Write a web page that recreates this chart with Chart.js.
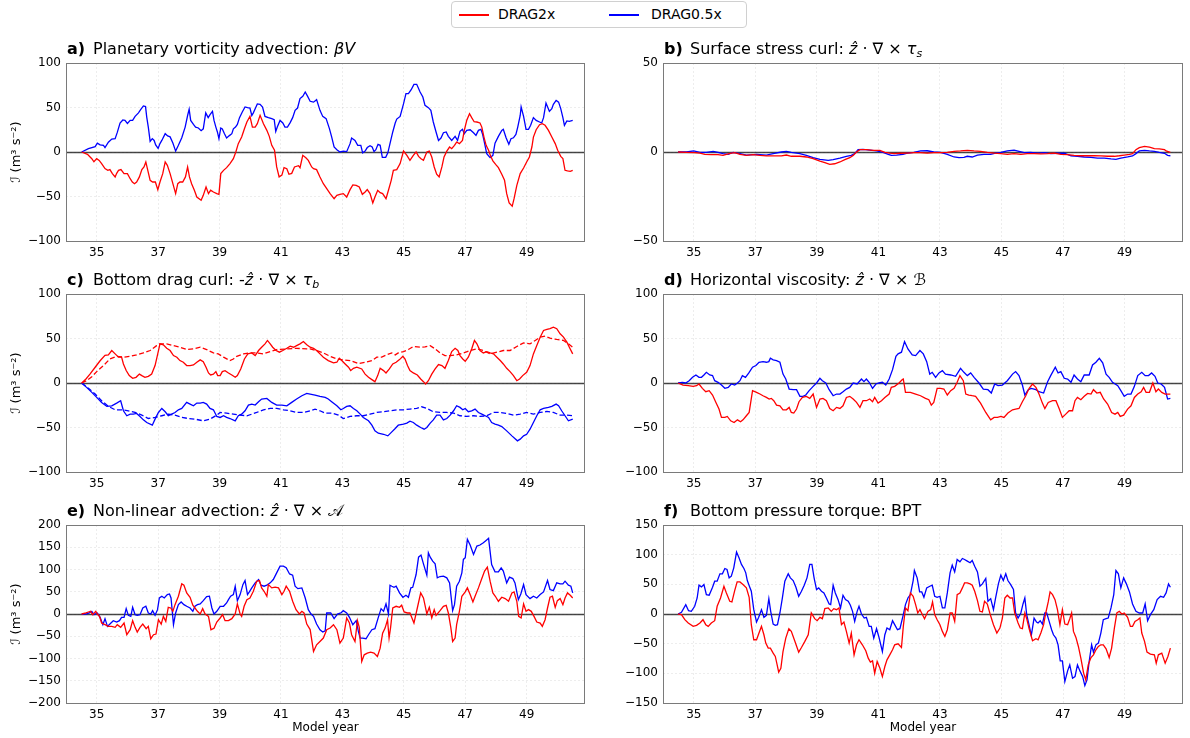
<!DOCTYPE html>
<html><head><meta charset="utf-8">
<script src="https://cdn.jsdelivr.net/npm/chart.js@4.4.1/dist/chart.umd.min.js"></script>
<style>
html,body{margin:0;padding:0;background:#fff;}
body{width:1190px;height:738px;position:relative;overflow:hidden;font-family:"DejaVu Sans",sans-serif;}
canvas{position:absolute;}
#legend{position:absolute;left:451px;top:1px;width:296px;height:27px;box-sizing:border-box;border:1px solid #d0d0d0;border-radius:4px;background:#fff;font-size:14px;z-index:5;}
#legend .sw{position:absolute;top:12px;height:2px;width:30px;}
#legend .lb{position:absolute;top:4px;line-height:17px;color:#000;white-space:nowrap;}
</style></head>
<body>
<div id="legend"></div>
<script>
// ---------- tick labels / names ----------
const xTicks = [35, 37, 39, 41, 43, 45, 47, 49];
const seriesNames = ['DRAG2x', 'DRAG0.5x'];
const seriesColors = ['#ff0000', '#0000ff'];

// ---------- a) planetary vorticity advection ----------
const aRed = [[34.51,0],[34.7,-2.6],[34.84,-7.5],[34.91,-11],[35,-7.5],[35.08,-9.4],[35.16,-13],[35.27,-18.7],[35.36,-20.6],[35.43,-19.8],[35.51,-24.3],[35.6,-28],[35.65,-24],[35.71,-20.6],[35.79,-19.8],[35.89,-24.3],[36,-24.3],[36.09,-30],[36.16,-33.7],[36.23,-35.6],[36.3,-33.7],[36.39,-28],[36.47,-19.8],[36.54,-16.8],[36.6,-11.2],[36.65,-18.7],[36.74,-31.8],[36.82,-33.7],[36.91,-33.7],[36.99,-42.3],[37.06,-33.7],[37.15,-24.3],[37.23,-11.2],[37.3,-15],[37.39,-24.3],[37.48,-35.6],[37.57,-46.8],[37.64,-35.6],[37.71,-33.7],[37.8,-33.7],[37.89,-28],[37.96,-16.8],[38.02,-28],[38.09,-35.6],[38.18,-43],[38.26,-50.6],[38.4,-54.3],[38.47,-48.7],[38.56,-39.3],[38.64,-46.8],[38.71,-43],[38.8,-45],[38.91,-46.8],[38.98,-47.6],[39.04,-24.3],[39.13,-20.6],[39.23,-17.6],[39.34,-13],[39.45,-7.5],[39.53,0],[39.61,9.4],[39.72,16.8],[39.81,26.2],[39.89,33.7],[39.99,40],[40.07,28],[40.16,28],[40.23,31.8],[40.32,41.2],[40.43,31.8],[40.54,24.3],[40.62,17.6],[40.7,7.5],[40.79,1.9],[40.86,-16.8],[40.94,-28],[41.03,-26],[41.1,-17.6],[41.19,-18.7],[41.26,-25],[41.35,-24],[41.44,-16.8],[41.57,-15.4],[41.62,-17.6],[41.71,-3.7],[41.81,-6.4],[41.89,-9.4],[42,-16.8],[42.06,-18.7],[42.16,-19.8],[42.27,-28],[42.38,-35.6],[42.49,-41.2],[42.6,-46.8],[42.73,-52.4],[42.82,-48.7],[42.92,-47.6],[43.03,-46.8],[43.14,-50.6],[43.25,-42.3],[43.34,-37],[43.45,-37.5],[43.55,-39.3],[43.65,-47.6],[43.74,-45],[43.81,-42.3],[43.9,-46.8],[43.99,-57.3],[44.06,-50.6],[44.15,-43],[44.23,-45.7],[44.31,-46.8],[44.42,-52.4],[44.5,-43],[44.59,-31.8],[44.66,-20.6],[44.77,-19.8],[44.88,-13],[44.99,1.1],[45.1,-3.7],[45.2,-9.4],[45.31,-3.7],[45.4,0],[45.48,-4.9],[45.56,-7.5],[45.64,-9.4],[45.75,0],[45.83,1],[45.91,-5.6],[45.99,-16.8],[46.07,-25],[46.15,-28],[46.24,-16.8],[46.31,-5.6],[46.4,1],[46.49,5.6],[46.56,3.7],[46.65,7.5],[46.72,11.2],[46.81,9.4],[46.91,13],[46.97,24.3],[47.05,35.6],[47.14,43],[47.21,38.6],[47.29,34],[47.38,33.7],[47.48,32.6],[47.54,28],[47.61,16.8],[47.68,7.5],[47.76,1.9],[47.83,-4.9],[47.9,-10],[47.99,-13.9],[48.08,-17.6],[48.19,-25],[48.28,-31.8],[48.35,-46.8],[48.43,-57.3],[48.53,-61],[48.59,-52.4],[48.68,-37.5],[48.79,-24.3],[48.9,-18],[49,-11.2],[49.09,-5.6],[49.17,5.6],[49.22,16.8],[49.31,25],[49.42,30.7],[49.51,31.8],[49.6,30],[49.71,24.3],[49.82,16.8],[49.93,9.4],[50.01,1.9],[50.11,-4.9],[50.18,-7.5],[50.25,-20.6],[50.33,-21.3],[50.42,-21.7],[50.5,-20.6]];
const aBlue = [[34.51,0],[34.73,3.7],[34.95,6],[35.02,10],[35.11,8],[35.22,7.5],[35.27,5],[35.38,11],[35.49,14.6],[35.6,15],[35.67,22],[35.76,32.6],[35.85,36],[35.92,35.5],[36,32],[36.09,35.5],[36.17,35.5],[36.25,40],[36.36,44],[36.43,47.5],[36.52,51.7],[36.59,51],[36.63,39],[36.68,28],[36.74,12],[36.81,15],[36.87,13],[36.92,8],[37,4],[37.06,9.4],[37.12,13],[37.23,20.6],[37.31,18],[37.39,17],[37.48,10],[37.57,1],[37.66,7.5],[37.77,16],[37.88,28],[37.96,41],[38.01,48],[38.06,35.5],[38.15,31],[38.22,28],[38.31,27],[38.4,24],[38.47,26],[38.55,44],[38.63,38.6],[38.69,42],[38.77,45.7],[38.82,35.5],[38.88,28],[38.93,22.5],[38.98,15],[39.04,27],[39.09,26],[39.16,20.6],[39.23,15.7],[39.32,18.4],[39.4,20.6],[39.45,26],[39.52,28],[39.58,31],[39.65,38.6],[39.74,45],[39.83,50.6],[39.91,49.8],[39.99,49.4],[40.05,41],[40.1,44],[40.16,48.7],[40.23,54],[40.32,53.5],[40.4,50.6],[40.48,40],[40.59,38.6],[40.7,37.5],[40.78,36.3],[40.83,23],[40.88,28],[40.97,35.5],[41.06,32.6],[41.13,28],[41.21,28],[41.3,33],[41.38,38.6],[41.46,46.8],[41.54,49.4],[41.62,60],[41.71,62.5],[41.79,67.4],[41.86,63],[41.95,57],[42.06,56],[42.16,58.8],[42.27,46.8],[42.36,40],[42.47,37.5],[42.58,26],[42.65,17],[42.73,5.6],[42.82,2.6],[42.92,0],[43.03,1],[43.14,0.4],[43.25,9.4],[43.3,15.7],[43.41,13],[43.5,7.5],[43.6,7.5],[43.66,-1],[43.74,1],[43.81,5],[43.9,7],[43.97,5.6],[44.03,0.4],[44.09,2.6],[44.16,8.6],[44.23,7.5],[44.3,-6],[44.41,-6],[44.48,-1],[44.55,9.4],[44.64,22.5],[44.72,32.6],[44.77,37],[44.88,40],[44.99,54],[45.07,65.5],[45.15,65.5],[45.24,70],[45.33,76],[45.42,76],[45.53,67.4],[45.62,61.8],[45.69,52.4],[45.8,49.8],[45.88,46.8],[45.96,33.7],[46.05,22.5],[46.13,13],[46.21,15.7],[46.29,21.7],[46.38,22.5],[46.45,17.6],[46.56,13],[46.67,17.6],[46.75,13],[46.83,23.2],[46.91,25.5],[46.97,20.6],[47.05,24.3],[47.16,25],[47.27,21.7],[47.35,18.7],[47.43,24.3],[47.51,25.5],[47.56,20.6],[47.61,13],[47.7,-1.9],[47.81,-6.4],[47.9,-3.7],[47.97,10],[48.08,17.6],[48.19,24.3],[48.24,25.5],[48.33,16],[48.42,8.6],[48.49,15],[48.57,16],[48.65,19.8],[48.71,28],[48.79,41],[48.82,50.6],[48.9,40],[48.98,25.5],[49.06,25.5],[49.13,30],[49.22,38.6],[49.31,35.5],[49.42,33.7],[49.49,32.6],[49.55,38.6],[49.63,55],[49.74,45.7],[49.82,48.7],[49.87,53.5],[49.96,58],[50.04,56],[50.11,48.7],[50.18,38.6],[50.23,30],[50.31,35],[50.39,34.5],[50.5,35.6]];

// ---------- b) surface stress curl ----------
const bRed = [[34.49,0],[34.76,-0.2],[35.03,-0.4],[35.2,-0.6],[35.36,-1.3],[35.57,-1.5],[35.79,-1.5],[35.95,-1.9],[36.06,-1.3],[36.22,-0.6],[36.33,-0.4],[36.5,-1.3],[36.71,-1.9],[36.93,-1.5],[37.15,-1.9],[37.36,-2.2],[37.58,-2.2],[37.85,-2.2],[38.01,-1.7],[38.17,-2.4],[38.45,-2.4],[38.66,-2.8],[38.88,-3.7],[39.1,-5.1],[39.26,-6],[39.42,-6.9],[39.58,-6.6],[39.75,-5.6],[39.91,-4.3],[40.07,-3.2],[40.18,-1.9],[40.29,0],[40.4,1.3],[40.61,1.3],[40.83,0.9],[41.05,0.9],[41.21,-0.2],[41.37,-0.6],[41.53,-0.9],[41.7,-0.7],[41.94,-0.6],[42.15,-0.4],[42.37,-0.4],[42.59,-0.6],[42.8,-0.4],[43.02,-0.4],[43.24,-0.2],[43.46,0.4],[43.67,0.6],[43.89,0.9],[44.11,0.6],[44.32,0.4],[44.54,-0.2],[44.76,-0.6],[44.98,-0.9],[45.19,-1.3],[45.41,-0.9],[45.63,-1.3],[45.84,-0.9],[46.06,-0.9],[46.28,-1.1],[46.5,-0.9],[46.71,-0.6],[46.93,-1.3],[47.15,-1.5],[47.36,-1.9],[47.58,-2.1],[47.8,-2.1],[48.02,-2.1],[48.23,-2.2],[48.45,-2.4],[48.67,-2.4],[48.83,-2.1],[48.99,-1.7],[49.16,-1.3],[49.26,-0.9],[49.37,1.3],[49.48,2.4],[49.65,3.2],[49.81,2.8],[49.97,1.9],[50.13,1.7],[50.3,1.3],[50.35,0.6],[50.49,-0.2]];
const bBlue = [[34.49,0],[34.76,0],[35,0.6],[35.2,-0.2],[35.41,-0.2],[35.63,0.4],[35.79,-0.2],[35.95,-0.9],[36.12,-1.3],[36.28,-0.2],[36.5,-0.9],[36.71,-1.7],[37.04,-1.3],[37.36,-1.7],[37.58,-0.9],[37.85,0],[38.01,0.4],[38.17,-0.2],[38.45,-0.9],[38.66,-1.9],[38.88,-3.2],[39.1,-4.1],[39.37,-4.7],[39.53,-4.3],[39.75,-3.4],[39.96,-2.4],[40.12,-1.9],[40.23,-0.9],[40.34,1.3],[40.5,1.5],[40.72,1.1],[40.94,0.6],[41.15,-0.2],[41.32,-1.3],[41.42,-1.9],[41.59,-1.7],[41.8,-1.3],[41.94,-0.6],[42.15,-0.2],[42.37,0.6],[42.59,0.7],[42.8,0],[43.02,-0.2],[43.24,-1.3],[43.46,-2.8],[43.62,-3.2],[43.78,-3],[43.89,-2.4],[44.05,-2.8],[44.22,-1.7],[44.43,-1.3],[44.65,-1.3],[44.81,-0.6],[44.98,-0.2],[45.19,0.6],[45.41,1.1],[45.57,0.4],[45.74,-0.4],[45.95,-0.2],[46.17,-0.6],[46.39,-0.4],[46.6,-0.9],[46.82,-0.7],[47.04,-0.7],[47.26,-2.1],[47.47,-2.4],[47.69,-2.8],[47.91,-3],[48.12,-3.4],[48.34,-3.4],[48.56,-3.9],[48.72,-4.1],[48.88,-3.4],[49.1,-2.8],[49.26,-2.2],[49.37,-0.9],[49.48,0.6],[49.65,0.9],[49.81,0.6],[49.97,0.4],[50.13,-0.2],[50.3,-0.7],[50.4,-1.9],[50.49,-2.1]];

// ---------- c) bottom drag curl (solid and dashed) ----------
const cRed = [[34.51,0],[34.65,4.5],[34.78,10],[34.95,17.7],[35.11,25],[35.27,31],[35.38,31.6],[35.49,36.5],[35.6,32.7],[35.71,29],[35.81,29],[35.87,21.4],[35.96,14],[36.06,8.3],[36.17,5.3],[36.28,6.4],[36.39,10],[36.47,8.3],[36.57,6.4],[36.68,7.5],[36.79,10],[36.9,19.6],[36.98,31.6],[37.06,44],[37.17,42.9],[37.28,39],[37.39,36.5],[37.5,30.8],[37.61,29],[37.71,25.2],[37.82,23.3],[37.93,19.6],[38.04,19.6],[38.15,20.3],[38.26,23.3],[38.37,26],[38.47,24],[38.56,17.7],[38.64,11.3],[38.71,9],[38.8,10],[38.88,12.8],[38.94,8.3],[39.02,8.3],[39.09,12.8],[39.18,13.9],[39.29,11.3],[39.4,9],[39.51,6.4],[39.58,8.3],[39.69,15.8],[39.81,27],[39.92,32.7],[40.05,33.8],[40.16,30.8],[40.27,36.5],[40.37,40.2],[40.48,44],[40.56,47.8],[40.65,44],[40.73,40.2],[40.84,36.5],[40.95,34.6],[41.06,36.5],[41.19,39],[41.3,41.4],[41.41,40.2],[41.51,42],[41.62,44],[41.73,46.6],[41.84,42.9],[41.95,40.2],[42.06,39],[42.16,36.5],[42.27,32.7],[42.38,29],[42.54,25.2],[42.71,22.6],[42.82,23.3],[42.9,27.8],[42.98,25.2],[43.09,21.4],[43.2,17.7],[43.27,13.9],[43.36,16.5],[43.47,17.7],[43.63,15.8],[43.74,10],[43.85,6.4],[43.96,3.8],[44.06,1.5],[44.15,8.3],[44.23,16.5],[44.34,13.9],[44.42,11.3],[44.53,15.8],[44.64,21.4],[44.75,23.3],[44.86,26.3],[44.97,30],[45.04,27],[45.12,19.6],[45.2,13.9],[45.31,11.3],[45.44,9],[45.55,4.5],[45.64,1.5],[45.71,-1.1],[45.8,2.6],[45.91,10],[46.02,15.8],[46.13,20.7],[46.24,19.6],[46.34,16.5],[46.45,25.2],[46.56,35.3],[46.67,39],[46.76,36.5],[46.83,30.8],[46.92,27],[47,24.4],[47.1,29],[47.21,38.3],[47.3,47.8],[47.38,44],[47.48,36.5],[47.59,33.8],[47.7,35.3],[47.81,33.8],[47.92,32.7],[48.03,29],[48.14,25.2],[48.24,21.4],[48.35,16.5],[48.46,12.8],[48.57,8.3],[48.68,2.6],[48.77,4.5],[48.87,8.3],[49,12],[49.11,19.6],[49.22,32.7],[49.33,42],[49.44,51.5],[49.55,59],[49.66,60.2],[49.76,61],[49.87,62.8],[49.98,61],[50.09,55.3],[50.2,51.5],[50.31,45.9],[50.39,40.2],[50.5,32.7]];
const cRedDash = [[34.51,0],[34.67,2.6],[34.84,7],[35,12.8],[35.22,19.6],[35.43,27],[35.65,30],[35.87,29],[36.09,30],[36.3,31.6],[36.52,33.8],[36.74,36.5],[36.95,42],[37.06,44],[37.28,44],[37.5,42],[37.71,40.2],[37.93,37.6],[38.15,38.3],[38.37,40.2],[38.58,37.6],[38.8,33.8],[38.96,32.7],[39.13,29],[39.34,25.2],[39.45,27],[39.56,30],[39.78,32.7],[39.99,33.8],[40.21,33.8],[40.43,32.7],[40.65,35.3],[40.86,37.6],[41.19,38.3],[41.51,39],[41.84,38.3],[41.95,38.3],[42.16,36.5],[42.38,33.8],[42.6,30],[42.82,27],[43.03,26],[43.25,25.2],[43.52,21.8],[43.74,23.3],[43.96,25.2],[44.12,29],[44.28,29],[44.44,31.6],[44.61,33.8],[44.72,31.6],[44.82,33.8],[44.99,35.3],[45.15,37.6],[45.31,41],[45.53,40.2],[45.69,40.6],[45.86,42],[46.02,38.3],[46.18,33.8],[46.34,30.8],[46.51,30.8],[46.72,31.6],[46.94,33.8],[47.16,36.5],[47.38,38.3],[47.59,36.5],[47.81,32.7],[48.03,34.6],[48.24,36.5],[48.46,36.5],[48.68,41],[48.9,45.1],[49.11,44],[49.28,47.8],[49.44,51.5],[49.6,52.6],[49.76,50.4],[49.98,48.9],[50.2,47.8],[50.36,44],[50.5,40.2]];
const cBlue = [[34.51,0],[34.67,-4.9],[34.84,-10.5],[35,-16.2],[35.16,-21.8],[35.33,-26.3],[35.49,-25.6],[35.65,-22.6],[35.78,-19.9],[35.87,-31.2],[35.98,-36.8],[36.09,-35],[36.19,-35],[36.3,-34.2],[36.41,-37.6],[36.52,-41.4],[36.63,-44.4],[36.81,-47.4],[36.9,-40.6],[37.01,-33.1],[37.12,-28.6],[37.23,-32.3],[37.33,-36.8],[37.44,-35],[37.55,-33.1],[37.66,-30.1],[37.77,-28.6],[37.93,-21.8],[38.04,-23.7],[38.15,-25.6],[38.26,-22.6],[38.37,-22.6],[38.47,-21.8],[38.58,-23.7],[38.69,-28.6],[38.8,-30.1],[38.91,-37.6],[39.02,-38.7],[39.13,-36.8],[39.23,-38.7],[39.34,-39.9],[39.51,-42.5],[39.61,-36.8],[39.72,-35],[39.83,-31.2],[39.94,-24.8],[40.05,-23.7],[40.16,-24.8],[40.27,-21],[40.37,-18],[40.54,-17.3],[40.7,-21.8],[40.86,-24.8],[41.03,-24.8],[41.19,-25.6],[41.35,-21.8],[41.51,-18],[41.68,-14.3],[41.84,-11.7],[41.95,-12.4],[42.11,-13.5],[42.27,-15],[42.44,-16.2],[42.54,-18],[42.65,-21],[42.82,-25.6],[42.95,-30.1],[43.03,-28.6],[43.14,-26.3],[43.25,-25.6],[43.36,-28.6],[43.47,-31.2],[43.58,-35],[43.68,-38.7],[43.85,-42.5],[43.96,-47.4],[44.06,-53.8],[44.17,-56.4],[44.34,-57.6],[44.48,-59.4],[44.61,-54.9],[44.72,-51.1],[44.82,-47.4],[44.99,-46.2],[45.1,-45.1],[45.2,-42.9],[45.31,-44.4],[45.42,-47.4],[45.55,-50],[45.66,-51.9],[45.75,-50],[45.86,-45.1],[45.96,-41.4],[46.07,-36.1],[46.18,-36.1],[46.29,-41.4],[46.4,-39.9],[46.51,-36.1],[46.62,-31.2],[46.72,-25.6],[46.83,-27.4],[46.92,-30.1],[47,-28.6],[47.1,-32.3],[47.21,-31.2],[47.32,-29.3],[47.43,-33.1],[47.54,-35],[47.65,-36.8],[47.76,-38.7],[47.86,-44.4],[47.97,-46.2],[48.08,-47.4],[48.19,-48.9],[48.35,-53.8],[48.52,-59.4],[48.7,-65],[48.79,-63.1],[48.9,-59.4],[49,-57.6],[49.11,-51.9],[49.22,-44.4],[49.33,-36.8],[49.44,-30.1],[49.55,-28.6],[49.71,-27.4],[49.82,-26.3],[49.96,-23.7],[50.04,-25.6],[50.14,-31.2],[50.25,-36.8],[50.36,-42.5],[50.5,-40.6]];
const cBlueDash = [[34.51,0],[34.73,-6],[34.95,-12.4],[35.16,-19.9],[35.38,-26.3],[35.6,-30.1],[35.81,-30.1],[36.03,-31.2],[36.25,-33.1],[36.47,-36.1],[36.68,-39.9],[36.9,-38.7],[37.12,-36.8],[37.33,-35],[37.55,-36.1],[37.77,-38.7],[37.99,-39.9],[38.2,-40.6],[38.47,-42.5],[38.69,-40.6],[38.91,-36.1],[39.02,-33.1],[39.23,-33.8],[39.45,-35],[39.67,-36.1],[39.89,-36.8],[40.05,-35],[40.21,-33.1],[40.43,-30.1],[40.65,-28.6],[40.86,-28.6],[41.08,-30.1],[41.3,-31.2],[41.51,-33.1],[41.73,-33.1],[41.95,-31.2],[42.11,-29.3],[42.27,-31.2],[42.44,-33.8],[42.65,-33.8],[42.87,-36.1],[43.03,-39.9],[43.25,-37.6],[43.47,-36.8],[43.68,-36.8],[43.9,-35],[44.12,-33.1],[44.34,-32.3],[44.55,-31.2],[44.77,-30.1],[44.99,-30.1],[45.2,-29.3],[45.42,-28.6],[45.58,-26.7],[45.75,-28.6],[45.96,-32.3],[46.18,-33.1],[46.4,-33.1],[46.62,-33.8],[46.83,-36.8],[47.05,-37.6],[47.27,-36.8],[47.48,-37.6],[47.7,-36.8],[47.92,-33.1],[48.14,-33.1],[48.35,-34.2],[48.57,-36.1],[48.79,-35],[49,-33.1],[49.22,-35],[49.44,-33.1],[49.66,-32],[49.87,-33.1],[50.09,-36.1],[50.31,-36.1],[50.5,-36.8]];

// ---------- d) horizontal viscosity ----------
const dRed = [[34.49,0],[34.65,-2.3],[34.82,-3],[34.98,-3.8],[35.09,-3],[35.17,-1.1],[35.28,-6],[35.39,-9.8],[35.5,-8.6],[35.61,-13.5],[35.72,-21.8],[35.82,-29.3],[35.9,-38.7],[36.01,-38.7],[36.09,-37.6],[36.2,-42.5],[36.31,-44.4],[36.42,-41.4],[36.52,-43.6],[36.6,-41.4],[36.71,-36.8],[36.8,-33.1],[36.91,-8.6],[37.04,-10.5],[37.15,-12.4],[37.25,-14.3],[37.36,-16.2],[37.45,-18],[37.52,-17.3],[37.6,-19.9],[37.69,-24.8],[37.8,-25.6],[37.9,-30.1],[38.01,-30.1],[38.1,-27.4],[38.17,-33.1],[38.25,-33.8],[38.34,-29.3],[38.42,-21],[38.53,-16.2],[38.66,-15],[38.77,-17.3],[38.88,-12.4],[38.99,-27.4],[39.1,-18],[39.2,-17.3],[39.31,-19.9],[39.42,-28.6],[39.53,-31.2],[39.64,-27.4],[39.75,-28.6],[39.85,-25.6],[39.96,-16.2],[40.07,-15],[40.18,-18],[40.29,-21.8],[40.4,-27.4],[40.5,-19.9],[40.61,-19.9],[40.72,-18],[40.81,-21],[40.88,-16.2],[40.99,-22.6],[41.1,-19.9],[41.21,-16.2],[41.35,-12.4],[41.42,-4.9],[41.53,-3.8],[41.67,0],[41.78,3.8],[41.81,4.5],[41.88,-10.5],[42.04,-10.5],[42.21,-12.4],[42.37,-14.3],[42.53,-17.3],[42.64,-18.8],[42.72,-24.8],[42.8,-21.8],[42.91,-6],[43.02,-6],[43.13,-6.8],[43.24,-13.5],[43.35,-8.6],[43.46,-6],[43.56,0.8],[43.65,8.3],[43.76,2.6],[43.84,-12.4],[43.94,-13.5],[44.05,-14.3],[44.16,-15],[44.32,-22.6],[44.49,-33.1],[44.65,-41.4],[44.76,-38.7],[44.87,-38.7],[44.98,-37.6],[45.08,-38.7],[45.21,-33.8],[45.36,-30.1],[45.46,-29.3],[45.57,-28.6],[45.68,-21],[45.79,-14.3],[45.9,-6],[46.01,-1.1],[46.12,-4.9],[46.22,-12.4],[46.33,-22.6],[46.41,-28.6],[46.52,-21.8],[46.66,-19.9],[46.77,-19.9],[46.88,-29.3],[46.98,-38.7],[47.09,-35],[47.2,-31.2],[47.31,-31.2],[47.39,-19.9],[47.47,-16.2],[47.58,-18.8],[47.69,-15],[47.8,-11.7],[47.91,-12.4],[47.99,-7.5],[48.1,-11.3],[48.21,-10.5],[48.32,-18],[48.45,-23.7],[48.58,-33.1],[48.69,-35],[48.78,-33.1],[48.86,-37.6],[48.97,-36.1],[49.1,-29.3],[49.21,-25.6],[49.32,-16.2],[49.43,-12.4],[49.54,-9.8],[49.62,-4.9],[49.7,-10.5],[49.81,-10.5],[49.92,0],[50.02,-9.8],[50.1,-6.8],[50.21,-10.5],[50.32,-12.4],[50.49,-12.4]];
const dBlue = [[34.49,0],[34.63,0.8],[34.74,0],[34.85,2.6],[34.96,6.4],[35.07,9],[35.17,6.4],[35.25,6.4],[35.33,9],[35.41,12],[35.52,9],[35.61,8.3],[35.68,2.6],[35.79,0.8],[35.9,-2.3],[36.01,-6],[36.12,-4.9],[36.22,-1.1],[36.33,-2.3],[36.42,0],[36.5,2.6],[36.58,8.3],[36.68,6.4],[36.79,11.3],[36.91,17.7],[37.02,19.6],[37.12,23.3],[37.25,24],[37.36,23.3],[37.44,24],[37.49,27.8],[37.58,26],[37.69,25.2],[37.8,23.3],[37.9,10],[37.99,4.5],[38.1,-6.8],[38.23,-7.5],[38.34,-7.5],[38.45,-15],[38.55,-15],[38.64,-13.5],[38.75,-8.6],[38.88,-3.8],[38.99,0],[39.1,5.3],[39.18,2.6],[39.29,0],[39.4,-7.5],[39.53,-14.3],[39.64,-12.4],[39.75,-12.4],[39.85,-9.8],[39.96,-6.8],[40.07,-4.9],[40.18,0],[40.31,-1.1],[40.45,4.5],[40.53,1.5],[40.61,4.5],[40.7,0.8],[40.81,-6],[40.92,-1.1],[41.02,0],[41.13,0.8],[41.24,-2.3],[41.35,4.5],[41.46,15],[41.57,30],[41.64,32.7],[41.75,34.6],[41.85,46.6],[41.96,38.3],[42.1,31.6],[42.21,30.8],[42.35,36.5],[42.46,32.7],[42.57,24],[42.67,10],[42.75,12],[42.86,6.4],[42.97,11.3],[43.08,13.9],[43.18,10],[43.35,9],[43.51,7.5],[43.67,16.5],[43.78,12],[43.89,8.3],[44,11.3],[44.11,6.4],[44.27,0],[44.41,-6.8],[44.56,-7.5],[44.67,-11.3],[44.78,-1.1],[44.89,-3],[45.03,-2.3],[45.19,2.6],[45.36,10],[45.46,12.8],[45.57,8.3],[45.68,-2.3],[45.76,-13.5],[45.87,-7.5],[45.97,-6],[46.12,-7.5],[46.22,-9.8],[46.37,-11.3],[46.5,1.5],[46.6,8.3],[46.75,17.7],[46.84,11.3],[46.93,12.8],[47.04,5.3],[47.15,4.5],[47.26,0.8],[47.36,9],[47.47,4.5],[47.58,1.5],[47.69,9],[47.85,9],[47.96,20.3],[48.07,23.3],[48.18,27.8],[48.29,22.6],[48.4,10],[48.5,6.4],[48.61,0.8],[48.78,-3],[48.88,-8.6],[48.99,-15],[49.1,-12.4],[49.21,-12.4],[49.32,-3.8],[49.43,8.3],[49.56,12],[49.67,8.3],[49.78,8.3],[49.88,11.3],[49.99,7.5],[50.08,0],[50.19,-1.1],[50.3,-4.9],[50.4,-18],[50.49,-17.3]];

// ---------- e) non-linear advection ----------
const eRed = [[34.51,0],[34.65,2.3],[34.73,4.5],[34.8,6],[34.87,-1.5],[34.97,6],[35.02,0],[35.09,-5.3],[35.16,-20.3],[35.27,-24],[35.38,-27.8],[35.49,-27.8],[35.6,-30],[35.67,-24],[35.78,-30],[35.89,-20.3],[35.98,-46.6],[36.09,-35.3],[36.17,-15],[36.25,-30],[36.32,-40.6],[36.41,-30],[36.5,-22.6],[36.61,-33],[36.68,-27.8],[36.76,-55.6],[36.85,-46.6],[36.93,-45],[37.01,-12.8],[37.1,-22.6],[37.17,-5.3],[37.25,-16.5],[37.33,15],[37.41,13.5],[37.48,6],[37.55,21],[37.66,40],[37.77,67.7],[37.84,64.7],[37.93,47.4],[38.04,37.6],[38.13,19.6],[38.2,13.5],[38.28,6],[38.37,0],[38.45,12],[38.53,0],[38.64,-5.3],[38.72,-35.3],[38.82,-32.3],[38.91,-18],[39.02,-9],[39.1,-1.5],[39.18,-15],[39.29,-15],[39.4,-10.5],[39.51,0],[39.58,22.6],[39.67,0],[39.72,-5.3],[39.8,17.3],[39.89,32.3],[39.99,36],[40.1,51],[40.21,73.7],[40.3,75.2],[40.37,58.7],[40.45,51],[40.54,39.9],[40.59,66.2],[40.7,58.7],[40.81,60.2],[40.92,58.7],[41.03,43.6],[41.1,51],[41.17,62.4],[41.28,51],[41.38,28.6],[41.49,9.8],[41.6,0],[41.68,6],[41.75,2.3],[41.84,-22.6],[41.95,-35],[42.06,-84.2],[42.16,-69.2],[42.27,-61.7],[42.38,-54],[42.49,-35.3],[42.6,-31.6],[42.71,-24],[42.82,-35.3],[42.92,-65.4],[43.03,-54],[43.14,-9],[43.23,-20.3],[43.3,-46.6],[43.41,-61.7],[43.49,-15],[43.55,-30],[43.63,-106.8],[43.71,-91.7],[43.81,-88],[43.92,-85.7],[44.03,-88],[44.14,-95.5],[44.23,-76.7],[44.31,-42.9],[44.39,-31.6],[44.47,-12.8],[44.52,-54],[44.57,-30],[44.64,13.5],[44.75,17.3],[44.86,15],[44.93,19.6],[45.01,4.5],[45.12,2.3],[45.2,2.3],[45.33,-20.3],[45.44,13.5],[45.55,47.4],[45.64,36],[45.75,0],[45.83,15],[45.91,-9],[45.99,9.8],[46.05,-3],[46.18,7.5],[46.29,17.3],[46.38,19.6],[46.45,2.3],[46.53,-30],[46.59,-61.7],[46.67,-54],[46.72,-24],[46.81,6],[46.89,39.9],[47,49.6],[47.07,58.7],[47.16,43.6],[47.25,27],[47.32,39.9],[47.43,58.7],[47.54,79.7],[47.63,96.3],[47.72,105.3],[47.81,73.7],[47.9,47.4],[47.98,39.9],[48.08,28.6],[48.19,37.6],[48.3,34.6],[48.41,28.6],[48.52,47.4],[48.59,49.6],[48.68,28.6],[48.74,-5.3],[48.82,-9],[48.9,22.6],[48.98,6],[49.06,9.8],[49.15,6],[49.24,-5.3],[49.33,-18],[49.44,-20.3],[49.51,-27.8],[49.6,-12.8],[49.68,13.5],[49.76,37.6],[49.84,39.9],[49.93,15],[50,30],[50.09,34.6],[50.18,21],[50.25,36],[50.33,47.4],[50.42,42],[50.5,36]];
const eBlue = [[34.51,0],[34.65,0],[34.76,2.3],[34.84,6],[34.91,-1.5],[35.02,2.3],[35.11,-7.5],[35.2,-24],[35.27,-10.5],[35.35,-27.8],[35.43,-22.6],[35.54,-15],[35.65,-18],[35.74,-15],[35.81,-7.5],[35.89,-7.5],[35.96,12],[36.03,-3],[36.11,-5.3],[36.17,15],[36.25,-1.5],[36.32,-3],[36.41,-1.5],[36.5,13.5],[36.6,17.3],[36.68,2.3],[36.76,0],[36.82,7.5],[36.9,-3],[36.98,9.8],[37.04,36],[37.12,40],[37.2,36],[37.3,43.6],[37.37,45],[37.42,36],[37.5,-24],[37.57,2.3],[37.66,21],[37.75,27],[37.84,21],[37.93,17.3],[38.04,13.5],[38.13,6],[38.2,17.3],[38.28,21],[38.37,22.6],[38.47,30],[38.58,39],[38.67,40],[38.75,13.5],[38.82,0],[38.91,6],[39.02,17.3],[39.13,17.3],[39.23,24.8],[39.29,32.3],[39.36,40],[39.45,43.6],[39.51,62.4],[39.58,30],[39.67,43.6],[39.76,66],[39.83,75.2],[39.91,43.6],[39.97,49.6],[40.05,58.7],[40.16,70],[40.27,77.5],[40.35,64.7],[40.45,62.4],[40.54,64.7],[40.65,70],[40.75,77.5],[40.86,92.5],[40.97,107.5],[41.08,107.5],[41.17,103.8],[41.28,90],[41.38,87.2],[41.46,62.4],[41.55,57],[41.68,58.7],[41.79,36],[41.89,9.8],[41.98,0],[42.06,-5.3],[42.16,-22.6],[42.27,-35.3],[42.36,-40.6],[42.44,-37.6],[42.49,2.3],[42.62,2.3],[42.73,-10.5],[42.84,0],[42.95,2.3],[43.03,7.5],[43.14,2.3],[43.23,-7.5],[43.34,-24],[43.45,-15],[43.52,-39],[43.58,-54],[43.66,-54],[43.77,-55.6],[43.85,-46.6],[43.96,-35.3],[44.06,-33],[44.17,-7.5],[44.26,12],[44.34,6],[44.42,22.6],[44.5,0],[44.55,64.7],[44.61,62.4],[44.68,60],[44.75,62.4],[44.86,47.4],[44.97,37.6],[45.07,42],[45.15,37.6],[45.23,58.7],[45.29,60],[45.4,88.7],[45.48,127.8],[45.56,132.4],[45.64,112.8],[45.75,87.2],[45.8,137.6],[45.86,127.8],[45.94,118.8],[46.02,112.8],[46.09,81.2],[46.18,84.2],[46.29,85],[46.4,81.2],[46.49,70],[46.59,7.5],[46.65,21],[46.72,62.4],[46.81,73.7],[46.89,92.5],[46.94,122.6],[47,126.3],[47.07,167.7],[47.16,155],[47.27,133.9],[47.38,152.6],[47.48,155],[47.59,160.2],[47.68,165.4],[47.76,170],[47.86,111.3],[47.97,94.8],[48.08,94.8],[48.17,103.8],[48.24,96.3],[48.35,70],[48.44,82.7],[48.55,79.7],[48.62,70],[48.73,32.3],[48.81,45],[48.9,66.2],[48.98,43.6],[49.11,34.6],[49.22,39.9],[49.33,36],[49.44,43.6],[49.55,49.6],[49.68,75.2],[49.76,55],[49.87,52.6],[49.98,70],[50.09,67.7],[50.18,67.7],[50.25,73.7],[50.36,64.7],[50.44,62.4],[50.5,47.4]];

// ---------- f) bottom pressure torque ----------
const fRed = [[34.49,0],[34.6,-1.1],[34.71,-9.6],[34.82,-15.2],[34.98,-20.9],[35.09,-19.2],[35.2,-15.2],[35.3,-9.6],[35.39,-18],[35.47,-20.9],[35.57,-15.2],[35.68,-11.3],[35.76,13],[35.87,27],[35.98,46.8],[36.06,35.5],[36.17,21.4],[36.24,20.3],[36.33,39.5],[36.41,54.1],[36.5,54.1],[36.6,49.6],[36.71,44],[36.8,28.2],[36.87,-18],[36.95,-43.4],[37.04,-43.4],[37.12,-32.1],[37.2,-20.9],[37.28,-35],[37.34,-49.1],[37.42,-57.5],[37.49,-57.5],[37.58,-66],[37.65,-71.6],[37.71,-85.7],[37.76,-98.1],[37.83,-91.4],[37.9,-63.2],[37.99,-40.6],[38.09,-24.8],[38.17,-29.3],[38.28,-45.1],[38.41,-64.3],[38.5,-56.4],[38.61,-46.2],[38.72,-35],[38.82,1.7],[38.93,-7.9],[39.01,-11.3],[39.1,-5.6],[39.18,-7.9],[39.26,9],[39.37,10.2],[39.47,4.5],[39.55,9],[39.64,7.3],[39.72,10.2],[39.8,-18],[39.88,-13.5],[39.96,-29.3],[40.05,-49.1],[40.12,-32.1],[40.21,-68.8],[40.29,-51.9],[40.37,-43.4],[40.48,-51.9],[40.59,-62],[40.67,-74.4],[40.74,-81.2],[40.81,-79],[40.88,-99.8],[40.96,-80.1],[41.05,-91.4],[41.13,-105.5],[41.21,-88.5],[41.28,-77.3],[41.37,-68.8],[41.46,-60.3],[41.53,-51.9],[41.64,-50.2],[41.75,-56.4],[41.81,-20.9],[41.88,10.2],[41.96,5.6],[42.04,35.5],[42.13,29.9],[42.21,15.8],[42.28,1.7],[42.35,7.3],[42.42,0],[42.5,-7.9],[42.61,4.5],[42.7,7.3],[42.76,20.3],[42.83,-1.1],[42.91,-9.6],[43,-18],[43.08,-29.3],[43.16,-37.8],[43.24,-26.5],[43.33,1.7],[43.4,1.7],[43.48,-12.4],[43.56,32.7],[43.65,35.5],[43.73,44],[43.8,52.4],[43.89,52.4],[43.98,50.8],[44.05,48.5],[44.13,38.3],[44.22,22.6],[44.3,4.5],[44.38,3.4],[44.45,21.4],[44.54,16.9],[44.63,0],[44.74,-18],[44.85,-32.1],[44.95,-23.7],[45.03,-6.8],[45.11,27],[45.19,31.6],[45.28,27],[45.36,27],[45.43,1.7],[45.54,-15.2],[45.61,-23.7],[45.68,-24.8],[45.76,1.7],[45.82,-7.9],[45.9,-24.8],[46.01,-45.1],[46.12,-41.7],[46.19,-43.4],[46.28,-32.1],[46.37,-18],[46.44,1.7],[46.52,20.3],[46.58,37.2],[46.66,32.7],[46.74,24.2],[46.82,7.3],[46.9,-18],[46.98,7.3],[47.06,-16.9],[47.15,-18],[47.22,-7.9],[47.28,1.7],[47.34,-29.3],[47.42,-39.5],[47.5,-54.7],[47.58,-74.4],[47.67,-99.8],[47.74,-111.1],[47.82,-85.7],[47.91,-73.3],[47.99,-68.8],[48.07,-60.3],[48.15,-54.7],[48.23,-51.9],[48.31,-51.9],[48.4,-58.7],[48.5,-73.3],[48.58,-57.5],[48.67,-23.7],[48.75,1.7],[48.83,4.5],[48.91,0],[48.99,1.7],[49.1,-5.6],[49.19,-20.9],[49.26,-20.9],[49.34,-12.4],[49.43,-9.6],[49.5,-6.8],[49.56,-32.1],[49.65,-46.2],[49.73,-64.3],[49.84,-67.7],[49.97,-68.8],[50.03,-82.9],[50.1,-68.8],[50.21,-66],[50.32,-82.9],[50.41,-71.6],[50.49,-57.5]];
const fBlue = [[34.49,0],[34.6,2.8],[34.74,15.8],[34.83,5.6],[34.92,4.5],[35.03,13],[35.11,27],[35.17,48.5],[35.25,45.7],[35.33,49.6],[35.41,32.7],[35.5,31.6],[35.61,45],[35.68,55.3],[35.76,55.3],[35.85,67.7],[35.93,67.7],[36.01,76.7],[36.08,75],[36.15,60.9],[36.22,63.7],[36.3,77.8],[36.39,104.3],[36.47,94.7],[36.55,83.5],[36.63,76.7],[36.69,69.4],[36.74,56.4],[36.82,45.1],[36.87,38.3],[36.95,7.3],[37.04,-13.5],[37.11,-5.6],[37.2,7.3],[37.28,-5.6],[37.36,-2.3],[37.44,25.9],[37.5,4.5],[37.58,-16.9],[37.65,-19.2],[37.72,-18],[37.8,1.7],[37.88,27],[37.96,55.3],[38.07,67.7],[38.14,60.9],[38.23,56.4],[38.32,45.1],[38.41,29.9],[38.5,38.3],[38.59,48.5],[38.68,60.9],[38.77,83.5],[38.84,83.5],[38.91,60.9],[38.99,41.2],[39.06,44],[39.15,38.3],[39.23,35.5],[39.31,27],[39.4,16.9],[39.45,15.8],[39.53,48.5],[39.6,35.5],[39.69,24.2],[39.77,10.2],[39.85,31.6],[39.93,24.2],[40.02,21.4],[40.09,14.7],[40.16,4.5],[40.23,-12.4],[40.31,4.5],[40.37,13],[40.45,0],[40.54,-6.8],[40.61,-5.6],[40.7,-20.9],[40.77,-20.9],[40.85,-40.6],[40.94,-24.8],[41.02,-39.5],[41.13,-63.2],[41.21,-35],[41.28,-23.7],[41.37,-26.5],[41.46,-11.3],[41.53,-18],[41.62,-26.5],[41.7,-24.8],[41.81,-1],[41.88,15.8],[41.96,27],[42.04,32.7],[42.13,56.4],[42.17,73.3],[42.26,60.9],[42.34,37.2],[42.41,37.2],[42.48,28.2],[42.57,44],[42.67,46.8],[42.75,48.5],[42.83,29.9],[42.91,28.2],[43,29.9],[43.08,10.2],[43.16,10.2],[43.24,35.5],[43.33,69.4],[43.4,82.3],[43.48,71],[43.56,91.9],[43.65,88],[43.73,93.6],[43.8,91.9],[43.89,89.1],[43.98,86.3],[44.05,90.2],[44.13,80.6],[44.22,71],[44.3,46.8],[44.38,50.8],[44.49,59.8],[44.56,21.4],[44.65,25.9],[44.74,7.3],[44.81,27],[44.9,50.8],[44.98,65.4],[45.06,56.4],[45.14,67.7],[45.21,56.4],[45.3,49.6],[45.39,41.2],[45.46,1.7],[45.54,-6.8],[45.63,1.7],[45.7,16.9],[45.76,27],[45.82,-1.1],[45.9,-19.2],[45.97,-36.1],[46.06,-6.8],[46.14,-13.5],[46.19,-15.2],[46.26,-11.3],[46.33,-16.9],[46.41,1.7],[46.47,1.7],[46.55,-12.4],[46.63,-26.5],[46.69,-35],[46.77,-40.6],[46.84,-51.9],[46.91,-79],[46.98,-79],[47.06,-113.9],[47.15,-95.9],[47.22,-85.7],[47.31,-108.3],[47.39,-105.5],[47.47,-85.7],[47.55,-95.9],[47.64,-105.5],[47.71,-120.7],[47.78,-111.1],[47.85,-80.1],[47.93,-51.9],[47.99,-64.3],[48.07,-51.9],[48.15,-49.1],[48.23,-32.1],[48.31,-9.6],[48.4,-7.9],[48.47,-6.8],[48.56,10.2],[48.65,32.7],[48.72,73.3],[48.8,67.7],[48.88,44],[48.97,60.9],[49.06,50.8],[49.16,37.2],[49.26,16.9],[49.37,4.5],[49.48,1.7],[49.59,1.7],[49.67,16.9],[49.75,-11.3],[49.84,-1.1],[49.95,7.3],[50.06,24.2],[50.17,29.9],[50.27,28.2],[50.35,35.5],[50.43,50.8],[50.49,45.1]];

// ---------- layout (figure geometry, not data) ----------
const FONT = '"DejaVu Sans", sans-serif';
Chart.defaults.font.family = FONT;
Chart.defaults.color = '#000';

const colLeft = [66, 663], colWidth = [519, 520], rowTop = [63, 294, 525], plotH = 178;
const Y_AXIS_W = 66, TOP_PAD = 40;

const zLine = {
  id: 'frameAndZero',
  beforeDatasetsDraw(chart) {
    const {ctx, chartArea: a, scales: {y}} = chart;
    const y0 = Math.round(y.getPixelForValue(0)) + 0.5;
    ctx.save();
    ctx.strokeStyle = 'rgba(0,0,0,0.72)'; ctx.lineWidth = 1.6;
    ctx.beginPath(); ctx.moveTo(a.left, y0); ctx.lineTo(a.right, y0); ctx.stroke();
    ctx.restore();
  },
  afterDraw(chart, args, opts) {
    const {ctx, chartArea: a} = chart;
    ctx.save();
    ctx.strokeStyle = '#7a7a7a'; ctx.lineWidth = 1;
    ctx.strokeRect(Math.round(a.left) + 0.5, Math.round(a.top) + 0.5, Math.round(a.right - a.left) - 1, Math.round(a.bottom - a.top));
    // panel title
    ctx.fillStyle = '#000'; ctx.textBaseline = 'alphabetic'; ctx.textAlign = 'left';
    const base = a.top - 9;
    ctx.font = 'bold 16px ' + FONT;
    ctx.fillText(opts.letter, a.left + 1, base);
    let x = a.left + 27;
    for (const s of opts.segments) {
      ctx.font = (s.it ? 'italic ' : '') + (s.sub ? 11 : 16) + 'px ' + FONT;
      ctx.fillText(s.t, x, base + (s.sub ? 3 : 0));
      x += ctx.measureText(s.t).width;
    }
    ctx.restore();
  }
};

function minusFmt(v) { return v < 0 ? '\u2212' + Math.abs(v) : String(v); }

function line(data, color, dashed) {
  return { data, borderColor: color, borderWidth: 1.3, borderDash: dashed ? [5, 2.5] : [],
           pointRadius: 0, tension: 0, fill: false };
}

function makePanel(p) {
  const cv = document.createElement('canvas');
  const left = colLeft[p.col] - Y_AXIS_W;
  const top = rowTop[p.row] - TOP_PAD;
  const w = p.col === 0 ? 595 : 1190 - left;
  const xh = p.row === 2 ? 35 : 24;
  const h = TOP_PAD + plotH + xh;
  cv.width = w; cv.height = h;
  cv.style.left = left + 'px'; cv.style.top = top + 'px';
  cv.style.width = w + 'px'; cv.style.height = h + 'px';
  document.body.appendChild(cv);
  new Chart(cv.getContext('2d'), {
    type: 'line',
    data: { datasets: p.datasets },
    options: {
      responsive: false, animation: false, devicePixelRatio: 1,
      layout: { padding: { top: TOP_PAD, left: 0, bottom: 0, right: w - Y_AXIS_W - colWidth[p.col] } },
      plugins: { legend: { display: false }, tooltip: { enabled: false },
                 frameAndZero: { letter: p.letter, segments: p.segments } },
      scales: {
        x: {
          type: 'linear', min: 34.0, max: 50.9,
          afterBuildTicks: (ax) => { ax.ticks = xTicks.map(v => ({ value: v })); },
          afterFit: (ax) => { ax.height = xh; },
          grid: { color: 'rgba(0,0,0,0.09)', lineWidth: 0.8, drawTicks: false },
          border: { display: false, dash: [2, 2] },
          ticks: { font: { size: 12 }, color: '#000', padding: 5, maxRotation: 0, autoSkip: false },
          title: { display: p.row === 2, text: 'Model year', font: { size: 12 }, color: '#000', padding: { top: 0, bottom: 3 } }
        },
        y: {
          type: 'linear', min: p.yMin, max: p.yMax,
          afterFit: (ax) => { ax.width = Y_AXIS_W; },
          grid: { color: 'rgba(0,0,0,0.09)', lineWidth: 0.8, drawTicks: false },
          border: { display: false, dash: [2, 2] },
          ticks: { stepSize: 50, font: { size: 12 }, color: '#000', padding: 5, callback: minusFmt },
          title: { display: p.col === 0, text: 'ℐ (m³ s⁻²)', font: { size: 13 }, color: '#000', padding: { top: 9, bottom: 0 } }
        }
      }
    },
    plugins: [zLine]
  });
}

const hat = 'ẑ';
const panels = [
  { letter: 'a)', col: 0, row: 0, yMin: -100, yMax: 100,
    segments: [{ t: 'Planetary vorticity advection: ' }, { t: 'βV', it: 1 }],
    datasets: [line(aRed, seriesColors[0]), line(aBlue, seriesColors[1])] },
  { letter: 'b)', col: 1, row: 0, yMin: -50, yMax: 50,
    segments: [{ t: 'Surface stress curl: ' }, { t: hat, it: 1 }, { t: ' · ∇ × ' }, { t: 'τ', it: 1 }, { t: 's', it: 1, sub: 1 }],
    datasets: [line(bRed, seriesColors[0]), line(bBlue, seriesColors[1])] },
  { letter: 'c)', col: 0, row: 1, yMin: -100, yMax: 100,
    segments: [{ t: 'Bottom drag curl: -' }, { t: hat, it: 1 }, { t: ' · ∇ × ' }, { t: 'τ', it: 1 }, { t: 'b', it: 1, sub: 1 }],
    datasets: [line(cRed, seriesColors[0]), line(cRedDash, seriesColors[0], true),
               line(cBlue, seriesColors[1]), line(cBlueDash, seriesColors[1], true)] },
  { letter: 'd)', col: 1, row: 1, yMin: -100, yMax: 100,
    segments: [{ t: 'Horizontal viscosity: ' }, { t: hat, it: 1 }, { t: ' · ∇ × ' }, { t: 'ℬ' }],
    datasets: [line(dRed, seriesColors[0]), line(dBlue, seriesColors[1])] },
  { letter: 'e)', col: 0, row: 2, yMin: -200, yMax: 200,
    segments: [{ t: 'Non-linear advection: ' }, { t: hat, it: 1 }, { t: ' · ∇ × ' }, { t: '𝒜' }],
    datasets: [line(eRed, seriesColors[0]), line(eBlue, seriesColors[1])] },
  { letter: 'f)', col: 1, row: 2, yMin: -150, yMax: 150,
    segments: [{ t: 'Bottom pressure torque: BPT' }],
    datasets: [line(fRed, seriesColors[0]), line(fBlue, seriesColors[1])] }
];
panels.forEach(makePanel);

// ---------- figure legend ----------
const lg = document.getElementById('legend');
const swX = [7, 157], lbX = [46, 199];
seriesNames.forEach((n, i) => {
  const s = document.createElement('div'); s.className = 'sw';
  s.style.left = swX[i] + 'px'; s.style.background = seriesColors[i];
  const l = document.createElement('div'); l.className = 'lb';
  l.style.left = lbX[i] + 'px'; l.textContent = n;
  lg.appendChild(s); lg.appendChild(l);
});
</script>
</body></html>
